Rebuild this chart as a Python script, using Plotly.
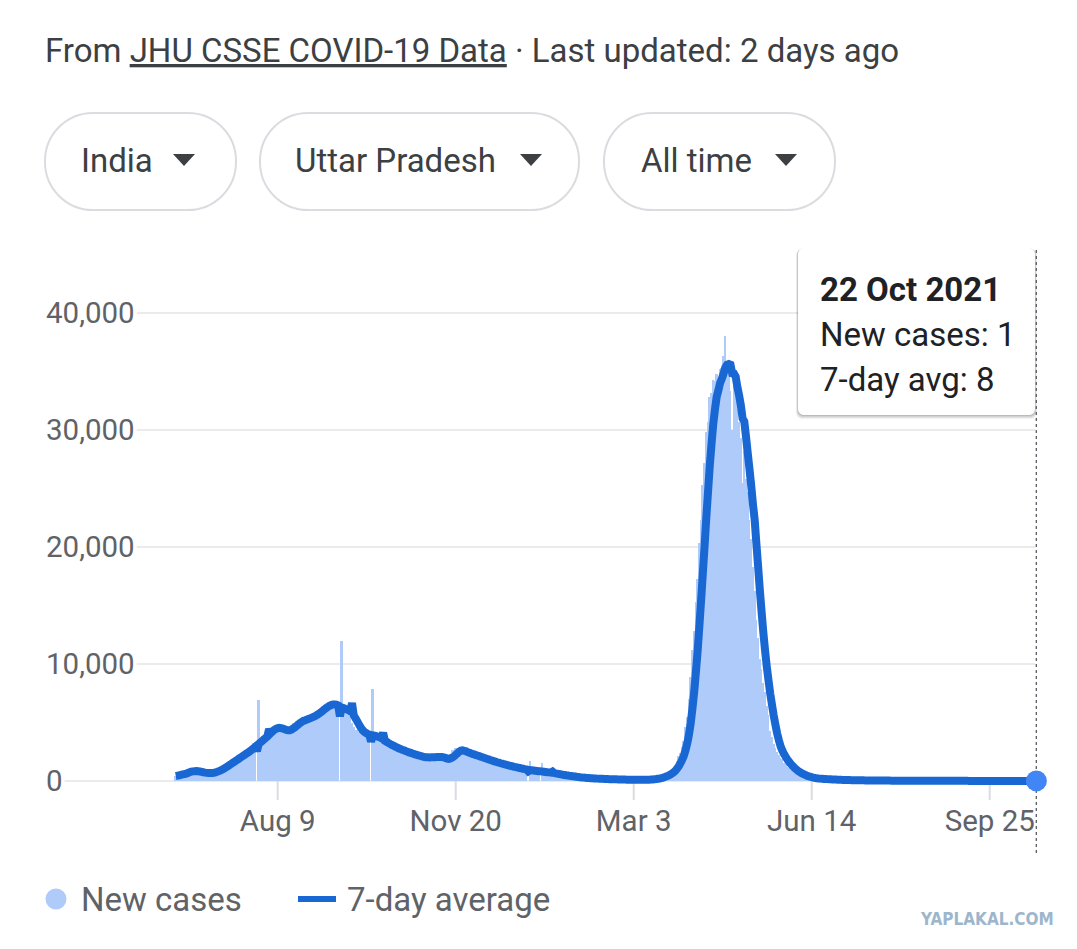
import pandas as pd
import plotly.graph_objects as go

# ---------------- data: daily new cases, Uttar Pradesh ----------------
jun_2020 = [430, 480, 560, 640, 700, 760, 820, 860, 880, 900, 860, 820, 780, 740, 700, 680, 650, 640, 660, 700]  # from Jun 11
jul_2020 = [720, 760, 810, 900, 940, 1060, 1140, 1260, 1330, 1470, 1540, 1680, 1720, 1880, 1930, 2080, 2130, 2270,
            2330, 2480, 2520, 2680, 2730, 2930, 3020, 3230, 3330, 0, 6900, 3620, 3830]
aug_2020 = [3950, 4120, 4230, 4420, 4480, 4630, 4680, 4620, 4530, 4410, 4300, 4200, 4250, 4320, 4380, 4520, 4780,
            4930, 4980, 5120, 5130, 5230, 5280, 5370, 5290, 5420, 5480, 5570, 5640, 5760, 5840]
sep_2020 = [5980, 6130, 6170, 6420, 6480, 6620, 6470, 6730, 6580, 6520, 6380, 6330, 6170, 0, 12000, 6230, 6080,
            6020, 5870, 5520, 4980, 4630, 4370, 4330, 4180, 4120, 3980, 3930, 3870, 3820]
oct_2020 = [3850, 0, 7900, 3780, 3650, 3520, 3440, 3300, 3260, 3190, 3120, 2980, 2930, 2830, 2820, 2730, 2720,
            2580, 2570, 2480, 2470, 2380, 2370, 2280, 2270, 2180, 2170, 2080, 2120, 2030, 2070]
nov_2020 = [1980, 1940, 2030, 2060, 1990, 2120, 2040, 1970, 2110, 2060, 2090, 1990, 1880, 1720, 1590, 1910, 2280,
            2620, 2690, 2820, 2640, 2610, 2480, 2460, 2390, 2360, 2290, 2260, 2190, 2160]
dec_2020 = [2120, 2030, 2010, 1940, 1910, 1840, 1810, 1740, 1710, 1640, 1610, 1540, 1510, 1470, 1460, 1390, 1360,
            1310, 1290, 1240, 1210, 1170, 1160, 1090, 1090, 1040, 1010, 970, 960, 930, 910]
jan_2021 = [0, 1750, 870, 830, 830, 790, 790, 0, 1520, 750, 710, 710, 670, 660, 610, 610, 560, 550, 500, 490, 450,
            450, 410, 410, 370, 370, 330, 330, 290, 300, 270]
feb_2021 = [260, 250, 240, 230, 220, 210, 200, 195, 190, 180, 175, 170, 165, 160, 155, 150, 145, 140, 135, 130, 125,
            120, 118, 115, 112, 110, 108, 105]
mar_2021 = [105, 100, 110, 95, 105, 100, 115, 90, 120, 110, 130, 140, 160, 180, 200, 240, 280, 320, 380, 450, 520,
            580, 650, 800, 950, 1150, 1400, 1700, 2100, 2400, 2900]
apr_2021 = [3400, 4600, 5500, 7000, 8900, 11200, 12800, 15300, 17300, 20300, 22300, 25300, 27200, 29800, 30700,
            32800, 33200, 34300, 34200, 34800, 33700, 35200, 35300, 36300, 38000, 35800, 35200, 33300, 30000, 35100]
may_2021 = [34500, 31800, 30700, 29300, 25500, 28200, 25800, 24700, 22300, 20700, 18300, 16200, 13800, 12200, 10400,
            9600, 8400, 7600, 6400, 5600, 4300, 3750, 3150, 2850, 2450, 2250, 1950, 1850, 1550, 1450, 1220]
jun_2021 = [1100, 950, 850, 750, 680, 600, 520, 450, 400, 350, 310, 280, 250, 230, 210, 200, 190, 180, 170, 160, 150,
            140, 130, 125, 120, 115, 110, 100, 95, 90]
jul_2021 = [80, 78, 75, 72, 70, 68, 65, 62, 60, 58, 55, 52, 50, 48, 46, 44, 42, 40, 40, 38, 38, 36, 35, 34, 33, 32,
            32, 30, 30, 29, 28]
aug_2021 = [28, 27, 27, 26, 25, 25, 24, 24, 23, 22, 22, 21, 21, 20, 20, 19, 19, 18, 18, 18, 17, 17, 16, 16, 16, 15,
            15, 15, 14, 14, 14]
sep_2021 = [13, 13, 13, 12, 12, 12, 11, 11, 11, 11, 10, 10, 10, 10, 10, 9, 9, 9, 9, 9, 9, 8, 8, 8, 8, 8, 8, 8, 8, 8]
oct_2021 = [8, 8, 9, 8, 7, 8, 9, 8, 8, 9, 8, 10, 9, 8, 11, 9, 10, 8, 9, 8, 11, 1]

first_day = "2020-06-11"
last_day = "2021-10-22"

x_tick_dates = ["2020-08-09", "2020-11-20", "2021-03-03", "2021-06-14", "2021-09-25"]
x_tick_labels = ["Aug 9", "Nov 20", "Mar 3", "Jun 14", "Sep 25"]
y_tick_values = [0, 10000, 20000, 30000, 40000]

header_source = "JHU CSSE COVID-19 Data"
header_updated = "Last updated: 2 days ago"
chip_labels = ["India", "Uttar Pradesh", "All time"]
legend_labels = ["New cases", "7-day average"]

# ---------------- derived series ----------------
new_cases = (jun_2020 + jul_2020 + aug_2020 + sep_2020 + oct_2020 + nov_2020 + dec_2020 + jan_2021 + feb_2021
             + mar_2021 + apr_2021 + may_2021 + jun_2021 + jul_2021 + aug_2021 + sep_2021 + oct_2021)
dates = pd.date_range(first_day, last_day, freq="D")
assert len(dates) == len(new_cases), (len(dates), len(new_cases))
avg7 = pd.Series(new_cases, dtype=float).rolling(7, min_periods=1).mean()

# ---------------- layout geometry (screen pixels; page body has an 8px margin) ----------------
W, H = 1077, 949
OFF = 8
PLOT_L, PLOT_R, PLOT_T, PLOT_B = 62, 1037, 250, 800      # plot area on screen
L = PLOT_L - OFF
T = PLOT_T - OFF
R = W - (PLOT_R - OFF)
B = H - (PLOT_B - OFF)
PW, PH = W - L - R, H - T - B


def px(sx):
    return (sx - OFF - L) / PW


def py(sy):
    return (H - B - (sy - OFF)) / PH


PX_PER_DAY = 1.7282
anchor = pd.Timestamp(x_tick_dates[0])
anchor_px = 277.7
x_start = anchor - pd.Timedelta(days=(anchor_px - PLOT_L) / PX_PER_DAY)
x_end = anchor + pd.Timedelta(days=(PLOT_R - anchor_px) / PX_PER_DAY)
PX_PER_UNIT = 117 / 10000.0
zero_px = 781
y_lo = -(PLOT_B - zero_px) / PX_PER_UNIT
y_hi = (zero_px - PLOT_T) / PX_PER_UNIT

FONT = "Roboto, 'Noto Sans', Arial, sans-serif"
TXT_DARK = "#3c4043"
TXT_GRAY = "#5f6368"
BAR_C = "#aecbfa"
LINE_C = "#1967d2"
DOT_C = "#4285f4"
BIG = 33


def rounded_rect(x0, y0, x1, y1, r):
    k = 0.5523 * r

    def P(x, y):
        return f"{px(x):.5f},{py(y):.5f}"
    return (f"M {P(x0 + r, y0)} L {P(x1 - r, y0)} "
            f"C {P(x1 - r + k, y0)} {P(x1, y0 + r - k)} {P(x1, y0 + r)} "
            f"L {P(x1, y1 - r)} "
            f"C {P(x1, y1 - r + k)} {P(x1 - r + k, y1)} {P(x1 - r, y1)} "
            f"L {P(x0 + r, y1)} "
            f"C {P(x0 + r - k, y1)} {P(x0, y1 - r + k)} {P(x0, y1 - r)} "
            f"L {P(x0, y0 + r)} "
            f"C {P(x0, y0 + r - k)} {P(x0 + r - k, y0)} {P(x0 + r, y0)} Z")


fig = go.Figure()
fig.add_trace(go.Bar(x=dates, y=new_cases, marker=dict(color=BAR_C, line=dict(width=0)),
                     name=legend_labels[0], hoverinfo="skip"))
fig.add_trace(go.Scatter(x=dates, y=avg7, mode="lines", line=dict(color=LINE_C, width=8, simplify=False),
                         name=legend_labels[1], hoverinfo="skip"))
fig.add_trace(go.Scatter(x=[dates[-1]], y=[avg7.iloc[-1]], mode="markers", cliponaxis=False,
                         marker=dict(color=DOT_C, size=21), hoverinfo="skip", showlegend=False))

shapes = []
annotations = []

# gridlines (start after each label) + y labels
digit_w, comma_w = 0.562 * 29.5, 0.2 * 29.5
for v in y_tick_values:
    lab = f"{v:,}"
    lab_w = sum(comma_w if ch == "," else digit_w for ch in lab)
    shapes.append(dict(type="line", xref="paper", yref="y", x0=px(45 + lab_w + 3), x1=px(1035), y0=v, y1=v,
                       line=dict(color="#ebebeb", width=2), layer="below"))
    annotations.append(dict(text=lab, xref="paper", yref="y", x=px(44), y=v, xanchor="left", yanchor="middle",
                            showarrow=False, font=dict(family=FONT, size=29.5, color=TXT_GRAY)))

# x tick marks
for d in x_tick_dates:
    shapes.append(dict(type="line", xref="x", yref="y", x0=d, x1=d, y0=0, y1=y_lo,
                       line=dict(color="#dadce0", width=2), layer="below"))

# tooltip
for off, op in [(4, 0.05), (3, 0.06), (2, 0.08), (1, 0.10)]:
    shapes.append(dict(type="path", xref="paper", yref="paper",
                       path=rounded_rect(798 - off * 0.5, 248 + off * 0.3, 1035 + off * 0.5, 415 + off, 6),
                       fillcolor=f"rgba(0,0,0,{op})", line=dict(width=0), layer="below"))
shapes.append(dict(type="path", xref="paper", yref="paper", path=rounded_rect(798, 248, 1035, 415, 6),
                   fillcolor="white", line=dict(width=0), layer="below"))
shapes.append(dict(type="line", xref="x", yref="paper", x0=dates[-1], x1=dates[-1], y0=py(250), y1=py(856),
                   line=dict(color="#5f6368", width=1.5, dash="dot"), layer="below"))
tip_date = dates[-1]
tip_lines = [f"<b>{tip_date.day} {tip_date.strftime('%b %Y')}</b>",
             f"New cases: {new_cases[-1]:,}",
             f"7-day avg: {round(avg7.iloc[-1]):,}"]
for i, t in enumerate(tip_lines):
    annotations.append(dict(text=t, xref="paper", yref="paper", x=px(818), y=py(289 + 45 * i),
                            xanchor="left", yanchor="middle", showarrow=False,
                            font=dict(family=FONT, size=BIG, color="#202124")))

# header
annotations.append(dict(text=f"From <u>{header_source}</u> · {header_updated}", xref="paper", yref="paper",
                        x=px(43), y=py(50), xanchor="left", yanchor="middle", showarrow=False,
                        font=dict(family=FONT, size=BIG, color=TXT_DARK)))

# chips
chip_boxes = [(45, 236), (260, 579), (604, 835)]
chip_text_x = [79, 293, 639]
chip_arrow_x = [184, 531, 786]
for lab, (x0, x1), tx, ax in zip(chip_labels, chip_boxes, chip_text_x, chip_arrow_x):
    shapes.append(dict(type="path", xref="paper", yref="paper", path=rounded_rect(x0, 113, x1, 210, 48),
                       fillcolor="white", line=dict(color="#dadce0", width=2)))
    annotations.append(dict(text=lab, xref="paper", yref="paper", x=px(tx), y=py(161), xanchor="left",
                            yanchor="middle", showarrow=False, font=dict(family=FONT, size=BIG, color=TXT_DARK)))
    tri = f"M {px(ax - 11):.5f},{py(154):.5f} L {px(ax + 11):.5f},{py(154):.5f} L {px(ax):.5f},{py(166):.5f} Z"
    shapes.append(dict(type="path", xref="paper", yref="paper", path=tri, fillcolor=TXT_DARK,
                       line=dict(width=0)))

# legend
shapes.append(dict(type="circle", xref="paper", yref="paper", x0=px(45.5), x1=px(66.5), y0=py(888.5), y1=py(909.5),
                   fillcolor=BAR_C, line=dict(width=0)))
annotations.append(dict(text=legend_labels[0], xref="paper", yref="paper", x=px(79), y=py(899), xanchor="left",
                        yanchor="middle", showarrow=False, font=dict(family=FONT, size=BIG, color=TXT_GRAY)))
shapes.append(dict(type="line", xref="paper", yref="paper", x0=px(298), x1=px(336), y0=py(899), y1=py(899),
                   line=dict(color=LINE_C, width=6)))
annotations.append(dict(text=legend_labels[1], xref="paper", yref="paper", x=px(345), y=py(899), xanchor="left",
                        yanchor="middle", showarrow=False, font=dict(family=FONT, size=BIG, color=TXT_GRAY)))

# watermark
annotations.append(dict(text="<b>YAPLAKAL.COM</b>", xref="paper", yref="paper", x=px(1056), y=py(919),
                        xanchor="right", yanchor="middle", showarrow=False,
                        font=dict(family="'Liberation Sans Narrow', 'DejaVu Sans Condensed', sans-serif",
                                  size=17, color="#9db6cc")))

fig.update_layout(
    width=W, height=H, margin=dict(l=L, r=R, t=T, b=B, pad=0),
    paper_bgcolor="white", plot_bgcolor="white", showlegend=False, bargap=0,
    shapes=shapes, annotations=annotations,
    xaxis=dict(type="date", range=[x_start, x_end], showgrid=False, zeroline=False, showline=False,
               tickvals=x_tick_dates, ticktext=x_tick_labels, ticks="",
               tickfont=dict(family=FONT, size=29.5, color=TXT_GRAY), fixedrange=True),
    yaxis=dict(range=[y_lo, y_hi], showgrid=False, zeroline=False, showticklabels=False, showline=False,
               fixedrange=True),
)
fig.write_html("out.html")
